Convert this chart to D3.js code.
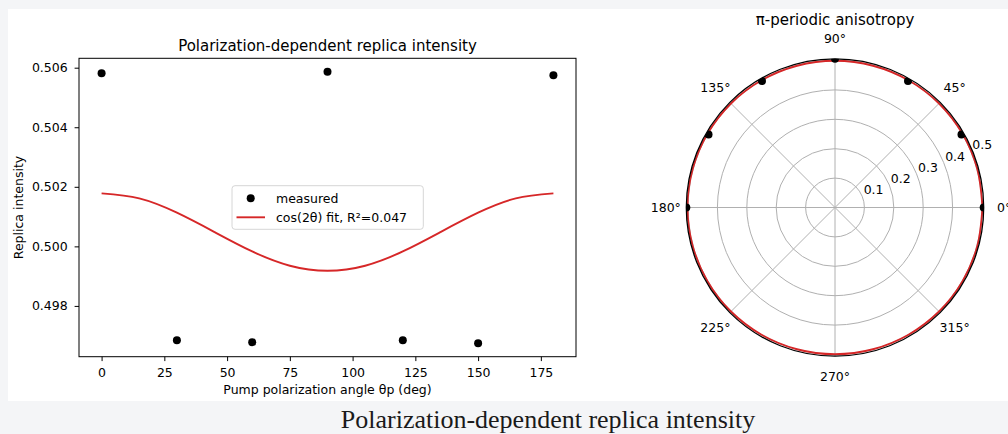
<!DOCTYPE html>
<html><head><meta charset="utf-8">
<script src="https://cdn.jsdelivr.net/npm/d3@7"></script>
<style>
html,body{margin:0;padding:0;background:#f4f5f7;}
svg{display:block;}
</style></head>
<body>
<svg id="chart" width="1008" height="434" font-family="DejaVu Sans, sans-serif"></svg>
<script>
// ---- data ----
const angles = [0, 30, 60, 90, 120, 150, 180];
const measured = [0.50581, 0.49685, 0.49678, 0.50586, 0.49685, 0.49675, 0.50575];
const fitAngles = [0, 15, 30, 45, 60, 75, 90, 105, 120, 135, 150, 165, 180];
const fitValues = [0.50178, 0.50161, 0.50113, 0.50048, 0.49983, 0.49935, 0.49918,
                   0.49935, 0.49983, 0.50048, 0.50113, 0.50161, 0.50178];
const xTicks = [0, 25, 50, 75, 100, 125, 150, 175];
const yTicks = [0.498, 0.500, 0.502, 0.504, 0.506];
const rTicks = [0.1, 0.2, 0.3, 0.4, 0.5];
const thetaTicks = [0, 45, 90, 135, 180, 225, 270, 315];
const legendLabels = ["measured", "cos(2θ) fit, R²=0.047"];
const titleLeft = "Polarization-dependent replica intensity";
const titlePolar = "π-periodic anisotropy";
const xLabel = "Pump polarization angle θp (deg)";
const yLabel = "Replica intensity";
const caption = "Polarization-dependent replica intensity";

const RED = "#d62728";
const FONT = "DejaVu Sans, sans-serif";
const svg = d3.select("#chart");
svg.append("rect").attr("x",0).attr("y",0).attr("width",1008).attr("height",434).attr("fill","#f4f5f7");
svg.append("rect").attr("x",8).attr("y",9).attr("width",1000).attr("height",392).attr("fill","#fff");

// ---- left cartesian chart ----
const L = {left:79, right:576, top:58.3, bottom:356.7};
const xMin = d3.min(angles), xMax = d3.max(angles), xr = xMax - xMin;
const yMin = d3.min(measured), yMax = d3.max(measured), yr = yMax - yMin;
const x = d3.scaleLinear().domain([xMin - 0.05*xr, xMax + 0.05*xr]).range([L.left, L.right]);
const y = d3.scaleLinear().domain([yMin - 0.05*yr, yMax + 0.05*yr]).range([L.bottom, L.top]);
const fs = 12.5, fsT = 15;

const gx = svg.append("g").attr("transform", `translate(0,${L.bottom})`)
  .call(d3.axisBottom(x).tickValues(xTicks).tickSize(4.4).tickPadding(7).tickFormat(d3.format("d")));
const gy = svg.append("g").attr("transform", `translate(${L.left},0)`)
  .call(d3.axisLeft(y).tickValues(yTicks).tickSize(4.4).tickPadding(6.9).tickFormat(d3.format(".3f")));
[gx, gy].forEach(g => {
  g.select(".domain").remove();
  g.selectAll(".tick line").attr("stroke","#000").attr("stroke-width",1);
  g.selectAll(".tick text").attr("font-size", fs).attr("font-family",FONT).attr("fill","#000");
});

// fit line
const fitData = fitAngles.map((a,i)=>[a, fitValues[i]]);
svg.append("path").datum(fitData)
  .attr("d", d3.line().x(d=>x(d[0])).y(d=>y(d[1])).curve(d3.curveNatural))
  .attr("fill","none").attr("stroke",RED).attr("stroke-width",1.9);
// points
svg.append("g").selectAll("circle").data(angles.map((a,i)=>[a, measured[i]])).join("circle")
  .attr("cx", d=>x(d[0])).attr("cy", d=>y(d[1])).attr("r", 4).attr("fill","#000");

// spines
svg.append("rect").attr("x",L.left).attr("y",L.top).attr("width",L.right-L.left).attr("height",L.bottom-L.top)
  .attr("fill","none").attr("stroke","#000").attr("stroke-width",1);

svg.append("text").attr("x",(L.left+L.right)/2).attr("y",50.5).attr("text-anchor","middle")
  .attr("font-size",fsT).text(titleLeft);
svg.append("text").attr("x",(L.left+L.right)/2).attr("y",393.5).attr("text-anchor","middle")
  .attr("font-size",fs).text(xLabel);
svg.append("text").attr("transform",`translate(22.5,${(L.top+L.bottom)/2}) rotate(-90)`).attr("text-anchor","middle")
  .attr("font-size",fs).text(yLabel);

// legend
const lg = svg.append("g");
lg.append("rect").attr("x",232).attr("y",185.7).attr("width",191.3).attr("height",43.6).attr("rx",3)
  .attr("fill","#fff").attr("fill-opacity",0.8).attr("stroke","#d6d6d6").attr("stroke-width",1);
lg.append("circle").attr("cx",250.7).attr("cy",198.3).attr("r",4).attr("fill","#000");
lg.append("line").attr("x1",236.5).attr("x2",265).attr("y1",217.3).attr("y2",217.3).attr("stroke",RED).attr("stroke-width",1.9);
lg.selectAll("text.lt").data(legendLabels).join("text").attr("class","lt")
  .attr("x",276).attr("y",(d,i)=>202.8+i*19).attr("font-size",fs).text(d=>d);

// ---- polar chart ----
const cx = 835, cy = 207.5, R = 148.7;
const rMax = d3.max(measured);
const r = d3.scaleLinear().domain([0, rMax]).range([0, R]);
const pg = svg.append("g").attr("transform",`translate(${cx},${cy})`);
const toXY = (deg, rv) => [r(rv)*Math.cos(deg*Math.PI/180), -r(rv)*Math.sin(deg*Math.PI/180)];

pg.append("clipPath").attr("id","pclip").append("circle").attr("r",R);
// grid
pg.selectAll("circle.rg").data(rTicks).join("circle").attr("class","rg")
  .attr("r", d=>r(d)).attr("fill","none").attr("stroke","#b0b0b0").attr("stroke-width",1);
pg.selectAll("line.tg").data(thetaTicks).join("line").attr("class","tg")
  .attr("x1",0).attr("y1",0)
  .attr("x2", d=>R*Math.cos(d*Math.PI/180)).attr("y2", d=>-R*Math.sin(d*Math.PI/180))
  .attr("stroke","#b0b0b0").attr("stroke-width",1);

const data = pg.append("g").attr("clip-path","url(#pclip)");
// fit curve around full circle (pi-periodic)
const polarFit = [];
fitAngles.forEach((a,i)=>polarFit.push([a, fitValues[i]]));
fitAngles.slice(1).forEach((a,i)=>polarFit.push([a+180, fitValues[i+1]]));
data.append("path").datum(polarFit)
  .attr("d", d3.lineRadial().angle(d=>Math.PI/2 - d[0]*Math.PI/180).radius(d=>r(d[1])).curve(d3.curveCatmullRom.alpha(0.5)))
  .attr("fill","none").attr("stroke",RED).attr("stroke-width",1.9);
data.selectAll("circle.pt").data(angles.map((a,i)=>[a, measured[i]])).join("circle").attr("class","pt")
  .attr("cx", d=>toXY(d[0],d[1])[0]).attr("cy", d=>toXY(d[0],d[1])[1]).attr("r",4).attr("fill","#000");

// spine
pg.append("circle").attr("r",R).attr("fill","none").attr("stroke","#000").attr("stroke-width",1.3);

// labels
pg.selectAll("text.tl").data(thetaTicks).join("text").attr("class","tl")
  .attr("x", d=>(R+20.5)*Math.cos(d*Math.PI/180))
  .attr("y", d=>-(R+20.5)*Math.sin(d*Math.PI/180) + 4.5)
  .attr("text-anchor","middle").attr("font-size",fs).text(d=>d+"°");
pg.selectAll("text.rl").data(rTicks).join("text").attr("class","rl")
  .attr("x", d=>r(d)*Math.cos(22.5*Math.PI/180) + 1.5)
  .attr("y", d=>-r(d)*Math.sin(22.5*Math.PI/180) - 2)
  .attr("font-size",fs).text(d=>d3.format(".1f")(d));
svg.append("text").attr("x",cx).attr("y",24.5).attr("text-anchor","middle").attr("font-size",fsT).text(titlePolar);

// caption
svg.append("text").attr("x",548).attr("y",428).attr("text-anchor","middle")
  .style("font-family","'Liberation Serif', serif").attr("font-size",26).attr("fill","#1a1a1a").text(caption);
</script>
</body></html>
